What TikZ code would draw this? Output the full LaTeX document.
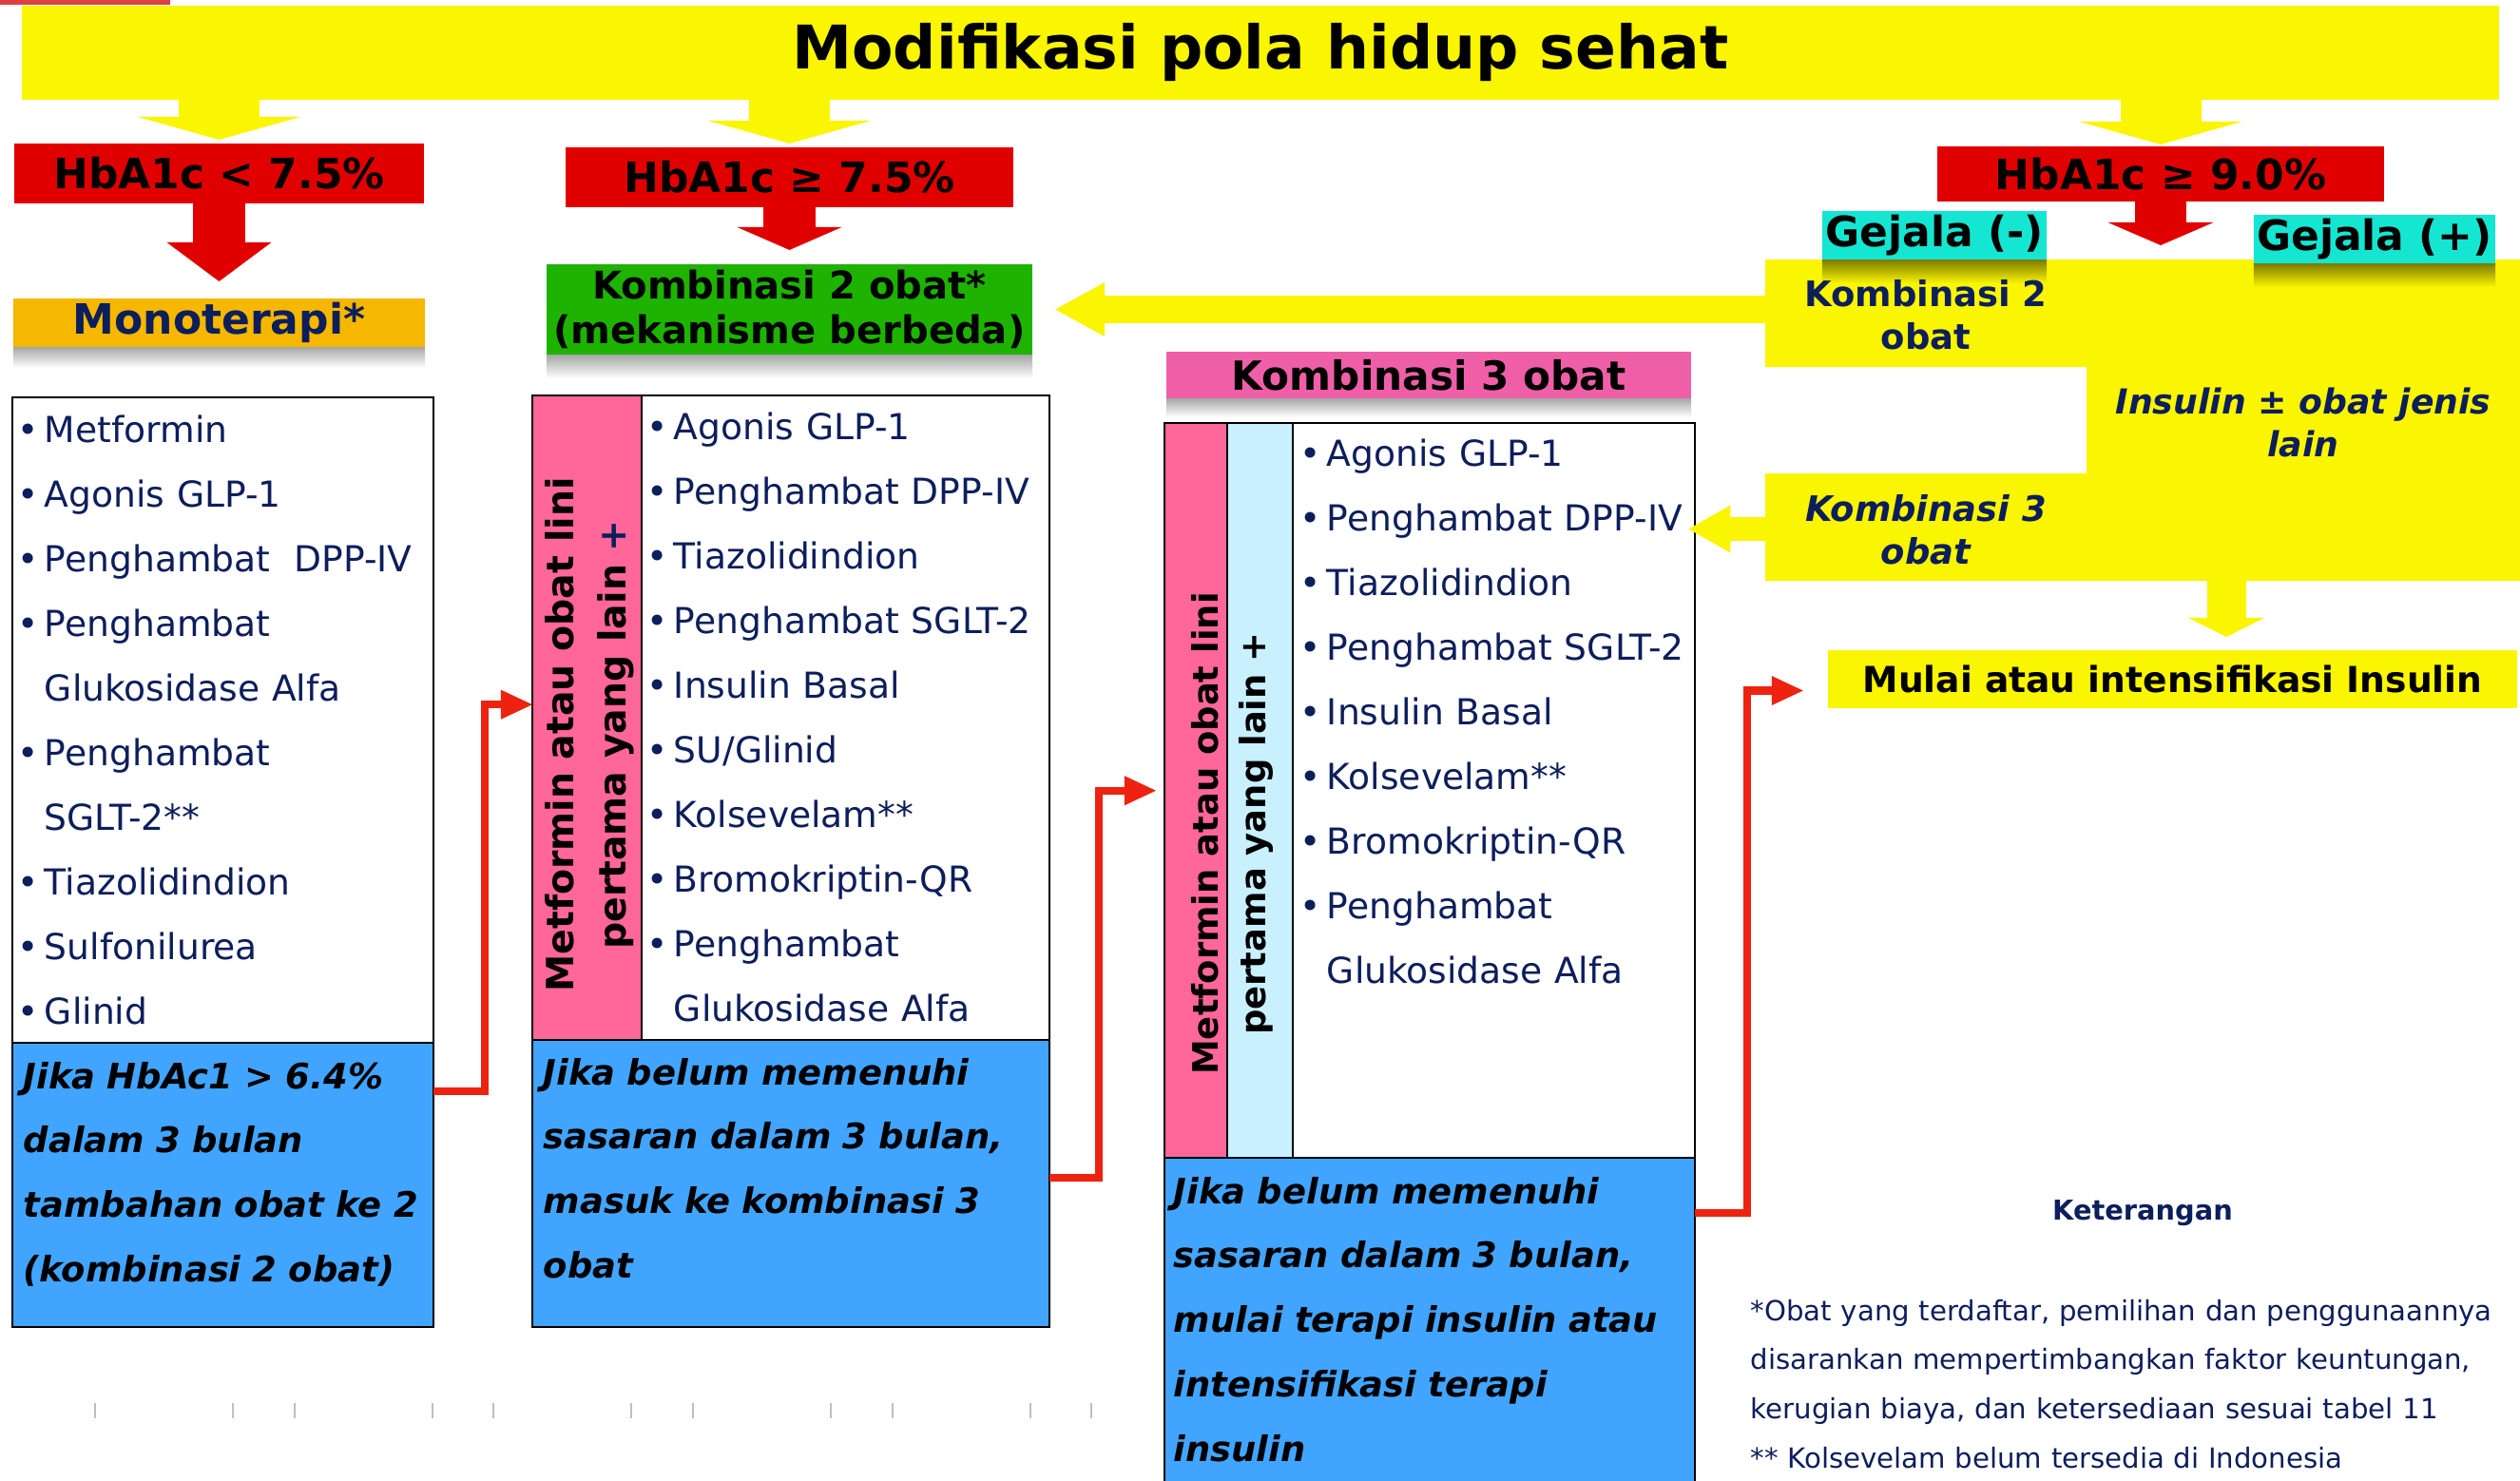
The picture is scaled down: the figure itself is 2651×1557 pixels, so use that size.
\documentclass[tikz,border=0pt]{standalone}
\usepackage{fontspec}
\setmainfont{DejaVu Sans}
\usetikzlibrary{arrows.meta,calc}
\definecolor{yel}{RGB}{250,245,0}
\definecolor{redbox}{RGB}{225,0,0}
\definecolor{topred}{RGB}{220,64,64}
\definecolor{orangebox}{RGB}{245,183,0}
\definecolor{greenbox}{RGB}{29,179,0}
\definecolor{pinkhead}{RGB}{238,95,168}
\definecolor{pinkcol}{RGB}{255,102,153}
\definecolor{lightcol}{RGB}{200,240,255}
\definecolor{bluebox}{RGB}{65,165,255}
\definecolor{cyanbox}{RGB}{20,230,210}
\definecolor{redline}{RGB}{238,34,17}
\definecolor{navy}{RGB}{13,30,92}
\newcommand{\itm}{\makebox[0.75em][l]{•}}
\newcommand{\cont}{\hspace*{0.75em}}
\tikzset{
  fillbox/.style={fill=#1, inner sep=0pt, outer sep=0pt},
  listbox/.style={draw=black, line width=0.6pt, fill=#1, inner sep=0pt, outer sep=0pt, anchor=north west},
  listtext/.style={anchor=base west, align=left, inner sep=0pt, text width=4.5cm, text=navy, font=\fontsize{10.7}{19.35}\selectfont},
  notetext/.style={anchor=base west, align=left, inner sep=0pt, text width=5.4cm, font=\fontsize{#1}{19.3}\selectfont\bfseries\itshape},
  sidetext/.style={rotate=90, align=center, inner sep=0pt},
  yarrow/.style={draw=yel, line width=#1},
  rarrow/.style={draw=redbox, line width=#1},
  redconn/.style={draw=redline, line width=2.3pt, -{Triangle[length=0.33cm,width=0.31cm,line width=0pt]}},
  shadowband/.style={top color=black!35, bottom color=white},
  yshadowband/.style={top color=yel!50!black, bottom color=yel}
}
\begin{document}
\begin{tikzpicture}[x=0.01cm,y=-0.01cm]
\useasboundingbox (0,0) rectangle (2651,1557);
\fill[topred] (0,0) rectangle (179,5);

\node[fillbox=yel, minimum width=26.04cm, minimum height=0.99cm, font=\fontsize{18}{22}\selectfont\bfseries] (title) at (1326,55.5) {Modifikasi pola hidup sehat};

\node[fillbox=redbox, minimum width=4.31cm, minimum height=0.63cm, font=\fontsize{12.5}{15}\selectfont\bfseries] (hbaA) at (230.5,182.5) {HbA1c < 7.5\%};
\node[fillbox=redbox, minimum width=4.71cm, minimum height=0.63cm, font=\fontsize{12.5}{15}\selectfont\bfseries] (hbaB) at (830.5,186.5) {HbA1c ≥ 7.5\%};
\node[fillbox=redbox, minimum width=4.70cm, minimum height=0.58cm, font=\fontsize{12.5}{15}\selectfont\bfseries] (hbaC) at (2273,183) {HbA1c ≥ 9.0\%};

\draw[yarrow=0.85cm, -{Triangle[length=0.24cm,width=1.71cm,line width=0pt]}, shorten >=0.04cm] (title.south -| hbaA) -- (hbaA.north);
\draw[yarrow=0.85cm, -{Triangle[length=0.24cm,width=1.71cm,line width=0pt]}, shorten >=0.04cm] (title.south -| hbaB) -- (hbaB.north);
\draw[yarrow=0.85cm, -{Triangle[length=0.24cm,width=1.71cm,line width=0pt]}, shorten >=0.02cm] (title.south -| hbaC) -- (hbaC.north);

\node[fillbox=orangebox, minimum width=4.33cm, minimum height=0.51cm, text=navy, font=\fontsize{12.5}{15}\selectfont\bfseries] (mono) at (230.5,339.5) {Monoterapi*};
\node[fillbox=greenbox, minimum width=5.11cm, minimum height=0.95cm, align=center, font=\fontsize{11.4}{13.4}\selectfont\bfseries] (komb2) at (830.5,325.5) {Kombinasi 2 obat*\\(mekanisme berbeda)};
\node[fillbox=pinkhead, minimum width=5.52cm, minimum height=0.49cm, font=\fontsize{12}{14}\selectfont\bfseries] (komb3) at (1503,394.5) {Kombinasi 3 obat};
\shade[shadowband] (mono.south west) rectangle ($(mono.south east)+(0,22)$);
\shade[shadowband] (komb2.south west) rectangle ($(komb2.south east)+(0,25)$);
\shade[shadowband] (komb3.south west) rectangle ($(komb3.south east)+(0,20)$);

\coordinate (ytop) at (2273,273);
\draw[rarrow=0.54cm, -{Triangle[length=0.41cm,width=1.10cm,line width=0pt]}, shorten >=0.18cm] (hbaA.south) -- (mono.north);
\draw[rarrow=0.55cm, -{Triangle[length=0.24cm,width=1.10cm,line width=0pt]}, shorten >=0.15cm] (hbaB.south) -- (komb2.north);
\draw[rarrow=0.54cm, -{Triangle[length=0.24cm,width=1.11cm,line width=0pt]}, shorten >=0.15cm] (hbaC.south) -- (ytop);

\fill[yel] (1857,273) -- (2651,273) -- (2651,611) -- (1857,611) -- (1857,498) -- (2195,498) -- (2195,386) -- (1857,386) -- cycle;
\node[fillbox=cyanbox, minimum width=2.36cm, minimum height=0.51cm, font=\fontsize{12.5}{15}\selectfont\bfseries] (gejmin) at (2035,247.5) {Gejala (-)};
\node[fillbox=cyanbox, minimum width=2.54cm, minimum height=0.51cm, font=\fontsize{12.5}{15}\selectfont\bfseries] (gejplus) at (2498,251.5) {Gejala (+)};
\shade[yshadowband] (gejmin.south west) rectangle ($(gejmin.south east)+(0,25)$);
\shade[yshadowband] (gejplus.south west) rectangle ($(gejplus.south east)+(0,25)$);

\node[align=center, inner sep=0pt, text=navy, font=\fontsize{10.5}{12.8}\selectfont\bfseries] (yk2) at (2026,331) {Kombinasi 2\\obat};
\node[align=center, inner sep=0pt, text=navy, font=\fontsize{10.3}{12.8}\selectfont\bfseries\itshape] (yins) at (2423,444) {Insulin ± obat jenis\\lain};
\node[align=center, inner sep=0pt, text=navy, font=\fontsize{10.5}{12.8}\selectfont\bfseries\itshape] (yk3) at (2026,557) {Kombinasi 3\\obat};

\node[fillbox=yel, minimum width=7.25cm, minimum height=0.61cm, font=\fontsize{10.7}{13}\selectfont\bfseries] (mulai) at (2285.5,714.5) {Mulai atau intensifikasi Insulin};

\node[listbox=white, minimum width=4.43cm, minimum height=6.79cm] (list1) at (13,418) {};
\node[listbox=bluebox, minimum width=4.43cm, minimum height=2.99cm] (note1) at (13,1097) {};
\node[listbox=white, minimum width=5.44cm, minimum height=6.78cm] (list2) at (560,416) {};
\node[listbox=pinkcol, minimum width=1.15cm, minimum height=6.78cm] (side2) at (560,416) {};
\node[listbox=bluebox, minimum width=5.44cm, minimum height=3.02cm] (note2) at (560,1094) {};
\node[listbox=white, minimum width=5.58cm, minimum height=7.73cm] (list3) at (1225,445) {};
\node[listbox=pinkcol, minimum width=0.66cm, minimum height=7.73cm] (side3a) at (1225,445) {};
\node[listbox=lightcol, minimum width=0.69cm, minimum height=7.73cm] (side3b) at (1291,445) {};
\node[listbox=bluebox, minimum width=5.58cm, minimum height=3.70cm] (note3) at (1225,1218) {};

\draw[yarrow=0.29cm, -{Triangle[length=0.52cm,width=0.57cm,line width=0pt]}, shorten >=0.24cm] (1870,325.5) coordinate (yk2w) -- (komb2.east);
\coordinate (yk3w) at (1870,556.5);
\draw[yarrow=0.25cm, -{Triangle[length=0.44cm,width=0.50cm,line width=0pt]}, shorten >=-0.07cm] (yk3w) -- (yk3w -| list3.east);
\coordinate (ybot) at (2342,600);
\draw[yarrow=0.41cm, -{Triangle[length=0.20cm,width=0.80cm,line width=0pt]}, shorten >=0.14cm] (ybot) -- (ybot |- mulai.north);

\node[listtext] (items1) at (18,465) {\itm Metformin\\ \itm Agonis GLP-1\\ \itm Penghambat\ \ DPP-IV\\ \itm Penghambat\\ \cont Glukosidase Alfa\\ \itm Penghambat\\ \cont SGLT-2**\\ \itm Tiazolidindion\\ \itm Sulfonilurea\\ \itm Glinid};
\node[listtext] (items2) at (680,462) {\itm Agonis GLP-1\\ \itm Penghambat DPP-IV\\ \itm Tiazolidindion\\ \itm Penghambat SGLT-2\\ \itm Insulin Basal\\ \itm SU/Glinid\\ \itm Kolsevelam**\\ \itm Bromokriptin-QR\\ \itm Penghambat\\ \cont Glukosidase Alfa};
\node[listtext] (items3) at (1367,490) {\itm Agonis GLP-1\\ \itm Penghambat DPP-IV\\ \itm Tiazolidindion\\ \itm Penghambat SGLT-2\\ \itm Insulin Basal\\ \itm Kolsevelam**\\ \itm Bromokriptin-QR\\ \itm Penghambat\\ \cont Glukosidase Alfa};

\node[sidetext, font=\fontsize{11.2}{15.6}\selectfont\bfseries] (met2) at (620,773) {Metformin atau obat lini\\pertama yang lain {\color{navy}+}};
\node[sidetext, font=\fontsize{10.5}{14.2}\selectfont\bfseries] (met3) at (1296,877) {Metformin atau obat lini\\pertama yang lain +};

\node[notetext=10.5] (jika1) at (24,1145) {Jika HbAc1 > 6.4\%\\dalam 3 bulan\\tambahan obat ke 2\\(kombinasi 2 obat)};
\node[notetext=10.5] (jika2) at (571,1141) {Jika belum memenuhi\\sasaran dalam 3 bulan,\\masuk ke kombinasi 3\\obat};
\node[notetext=10.5] (jika3) at (1234,1266) {Jika belum memenuhi\\sasaran dalam 3 bulan,\\mulai terapi insulin atau\\intensifikasi terapi\\insulin};

\draw[redconn] ([yshift=-0.51cm]note1.north east) -- ++(54,0) |- ([yshift=0.14cm]list2.west);
\draw[redconn, shorten >=0.09cm] ([yshift=0.06cm]note2.east) -- ++(52,0) |- (list3.west);
\draw[redconn, shorten >=0.26cm] ([yshift=-0.58cm]note3.north east) -- ++(55,0) |- ([yshift=-0.12cm]mulai.west);

\node[text=navy, inner sep=0pt, font=\fontsize{8.2}{10}\selectfont\bfseries] (ket) at (2254,1276) {Keterangan};
\node[anchor=base west, align=left, inner sep=0pt, text width=8cm, text=navy, font=\fontsize{8.3}{14.7}\selectfont] (foot) at (1841,1389) {*Obat yang terdaftar, pemilihan dan penggunaannya\\disarankan mempertimbangkan faktor keuntungan,\\kerugian biaya, dan ketersediaan sesuai tabel 11\\{}** Kolsevelam belum tersedia di Indonesia};

\draw[black!25, line width=0.4pt] (100,1476) -- (100,1492) (245,1476) -- (245,1492) (310,1476) -- (310,1492) (455,1476) -- (455,1492) (519,1476) -- (519,1492) (664,1476) -- (664,1492) (729,1476) -- (729,1492) (874,1476) -- (874,1492) (939,1476) -- (939,1492) (1084,1476) -- (1084,1492) (1148,1476) -- (1148,1492);
\end{tikzpicture}
\end{document}
